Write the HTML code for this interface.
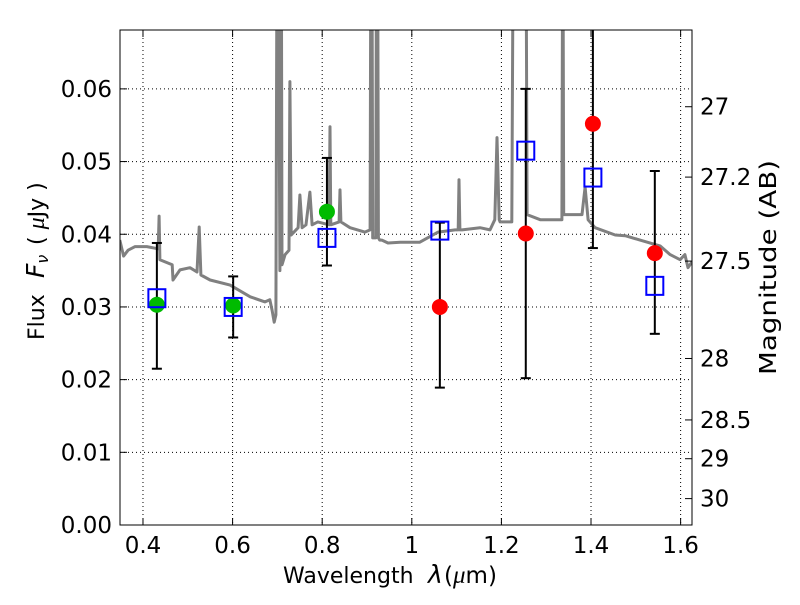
<!DOCTYPE html>
<html><head><meta charset="utf-8"><style>
body{margin:0;background:#fff;}
svg text{font-family:"DejaVu Sans","Liberation Sans",sans-serif;fill:#000;}
</style></head><body>
<svg id="chart" width="800" height="600" xmlns="http://www.w3.org/2000/svg">
<rect x="0" y="0" width="800" height="600" fill="#fff"/>
<g id="grid"></g>
<g id="spec"></g>
<g id="marks"></g>
<g id="axes"></g>
</svg>
<script>
const specLam=[0.3483,0.3568,0.3668,0.3824,0.4086,0.4339,0.4359,0.4378,0.4651,0.4670,0.4826,0.5050,0.5206,0.5254,0.5293,0.5498,0.5945,0.6393,0.6724,0.6831,0.6880,0.6928,0.6967,0.6996,0.7016,0.7055,0.7084,0.7103,0.7172,0.7259,0.7279,0.7308,0.7463,0.7502,0.7551,0.7639,0.7726,0.7775,0.7901,0.8154,0.8174,0.8193,0.8378,0.8398,0.8417,0.8621,0.8952,0.9069,0.9089,0.9108,0.9128,0.9196,0.9215,0.9235,0.9254,0.9283,0.9332,0.9468,0.9741,1.0179,1.0587,1.0967,1.1035,1.1054,1.1074,1.1123,1.1522,1.1745,1.1853,1.1901,1.1950,1.1970,1.2232,1.2271,1.2320,1.2495,1.2544,1.2573,1.2865,1.3312,1.3351,1.3371,1.3390,1.3527,1.3799,1.3867,1.3935,1.4091,1.4539,1.4762,1.5093,1.5541,1.5765,1.5989,1.6096,1.6164,1.6252];
const specFlux=[0.0392,0.0370,0.0378,0.0383,0.0383,0.0380,0.0425,0.0365,0.0358,0.0337,0.0351,0.0354,0.0348,0.0410,0.0344,0.0337,0.0330,0.0314,0.0307,0.0310,0.0296,0.0279,0.0289,0.090,0.090,0.035,0.090,0.0358,0.0372,0.0378,0.0610,0.0399,0.0409,0.0454,0.0409,0.0413,0.0458,0.0413,0.0417,0.0413,0.0548,0.0413,0.0417,0.0461,0.0417,0.0409,0.0403,0.0406,0.090,0.090,0.0395,0.0395,0.090,0.090,0.0395,0.0392,0.0392,0.0388,0.0389,0.0389,0.0403,0.0406,0.0406,0.0475,0.0406,0.0406,0.0409,0.0406,0.0420,0.0533,0.0420,0.0417,0.0417,0.090,0.090,0.090,0.090,0.0427,0.0420,0.0420,0.0420,0.090,0.0427,0.0427,0.0427,0.0465,0.0420,0.0409,0.0399,0.0398,0.0392,0.0384,0.0372,0.0365,0.0372,0.0354,0.0362];
const obsLam=[0.4310,0.6013,0.8106,1.0626,1.2544,1.4042,1.5424];
const obsFlux=[0.0303,0.0302,0.0431,0.0300,0.0401,0.0552,0.0374];
const errLo=[0.0215,0.0258,0.0357,0.0189,0.0202,0.0381,0.0263];
const errHi=[0.0388,0.0342,0.0505,0.0416,0.0600,0.0750,0.0487];
const obsColor=['#00bb00','#00bb00','#00bb00','#ff0000','#ff0000','#ff0000','#ff0000'];
const modelFlux=[0.0312,0.0300,0.0395,0.0405,0.0515,0.0478,0.0329];
const xTicks=[0.4,0.6,0.8,1.0,1.2,1.4,1.6];
const xTickLabels=['0.4','0.6','0.8','1','1.2','1.4','1.6'];
const yTicks=[0,0.01,0.02,0.03,0.04,0.05,0.06];
const yTickLabels=['0.00','0.01','0.02','0.03','0.04','0.05','0.06'];
const magTicks=[27,27.2,27.5,28,28.5,29,30];
const magTickLabels=['27','27.2','27.5','28','28.5','29','30'];

const L=120,R=692,T=30,B=525;
const xMin=0.3487,xMax=1.6254,yMin=0,yMax=0.0681;
const X=v=>L+(v-xMin)/(xMax-xMin)*(R-L);
const Y=v=>B-(v-yMin)/(yMax-yMin)*(B-T);
const NS='http://www.w3.org/2000/svg';
function mk(tag,attrs,parent){const e=document.createElementNS(NS,tag);for(const k in attrs)e.setAttribute(k,attrs[k]);parent.appendChild(e);return e;}
const svg=document.getElementById('chart');
const grid=document.getElementById('grid'),spec=document.getElementById('spec'),marks=document.getElementById('marks'),axes=document.getElementById('axes');
const defs=mk('defs',{},svg);const cp=mk('clipPath',{id:'clip'},defs);mk('rect',{x:L,y:T,width:R-L,height:B-T},cp);
spec.setAttribute('clip-path','url(#clip)');marks.setAttribute('clip-path','url(#clip)');
const FS=23;
xTicks.forEach((t,i)=>{
  const gl=mk('line',{x1:X(t),x2:X(t),y1:T,y2:B,stroke:'#000','stroke-width':1,'stroke-dasharray':'1,3'},grid);
  
  mk('line',{x1:X(t),x2:X(t),y1:B,y2:B-7,stroke:'#000'},axes);
  mk('line',{x1:X(t),x2:X(t),y1:T,y2:T+7,stroke:'#000'},axes);
  const tx=mk('text',{x:X(t),y:B+28,'text-anchor':'middle','font-size':FS},axes);tx.textContent=xTickLabels[i];
  
});
yTicks.forEach((t,i)=>{
  if(t>0){const gl=mk('line',{x1:L,x2:R,y1:Y(t),y2:Y(t),stroke:'#000','stroke-width':1,'stroke-dasharray':'1,3'},grid);
  }
  mk('line',{x1:L,x2:L+7,y1:Y(t),y2:Y(t),stroke:'#000'},axes);
  const tx=mk('text',{x:L-8,y:Y(t)+8,'text-anchor':'end','font-size':FS},axes);tx.textContent=yTickLabels[i];
  
});
magTicks.forEach((m,i)=>{
  const f=Math.pow(10,(23.9-m)/2.5);const y=Y(f);
  mk('line',{x1:R,x2:R-7,y1:y,y2:y,stroke:'#000'},axes);
  const tx=mk('text',{x:R+8,y:y+8,'font-size':FS},axes);tx.textContent=magTickLabels[i];
  
});
const pts=specLam.map((l,i)=>X(l).toFixed(1)+','+Y(specFlux[i]).toFixed(1)).join(' ');
const pl=mk('polyline',{points:pts,fill:'none',stroke:'#808080','stroke-width':3,'stroke-linejoin':'round'},spec);

obsLam.forEach((l,i)=>{
  const x=X(l);
  const eb=mk('g',{},marks);
  
  mk('line',{x1:x,x2:x,y1:Y(errLo[i]),y2:Y(errHi[i]),stroke:'#000','stroke-width':2},eb);
  mk('line',{x1:x-5,x2:x+5,y1:Y(errLo[i]),y2:Y(errLo[i]),stroke:'#000','stroke-width':2},eb);
  mk('line',{x1:x-5,x2:x+5,y1:Y(errHi[i]),y2:Y(errHi[i]),stroke:'#000','stroke-width':2},eb);
});
obsLam.forEach((l,i)=>{
  const c=mk('circle',{cx:X(l),cy:Y(obsFlux[i]),r:8,fill:obsColor[i]},marks);
  
});
obsLam.forEach((l,i)=>{
  const s=mk('rect',{x:X(l)-8.5,y:Y(modelFlux[i])-9,width:17,height:18,fill:'none',stroke:'#0000ff','stroke-width':2},marks);
  
});
const fr=mk('rect',{x:L,y:T,width:R-L,height:B-T,fill:'none',stroke:'#000','stroke-width':1},axes);

// x title
const xt=mk('g',{},axes);

let t1=mk('text',{x:283,y:583,'font-size':22},xt);t1.textContent='Wavelength';
let t2=mk('text',{x:428,y:583,'font-size':25,'font-style':'italic','font-family':'Liberation Serif,serif'},xt);t2.textContent='λ';
let t3=mk('text',{x:444,y:583,'font-size':23},xt);t3.innerHTML='(<tspan font-style="italic" font-family="Liberation Serif,serif" font-size="25">μ</tspan>m)';
// y title
const yt=mk('g',{transform:'translate(44,340) rotate(-90)'},axes);

let y1=mk('text',{x:0,y:0,'font-size':22},yt);y1.textContent='Flux';
let y2=mk('text',{x:62,y:0,'font-size':25,'font-style':'italic','font-family':'Liberation Serif,serif'},yt);y2.innerHTML='F<tspan font-size="16" dy="4">ν</tspan>';
let y3=mk('text',{x:95,y:0,'font-size':22},yt);y3.innerHTML='( <tspan font-style="italic" font-family="Liberation Serif,serif" font-size="24"> μ</tspan>Jy )';
const rt=mk('text',{transform:'translate(776,375) rotate(-90)','font-size':23,textLength:215,lengthAdjust:'spacingAndGlyphs'},axes);
rt.textContent='Magnitude (AB)';

</script>
</body></html>
